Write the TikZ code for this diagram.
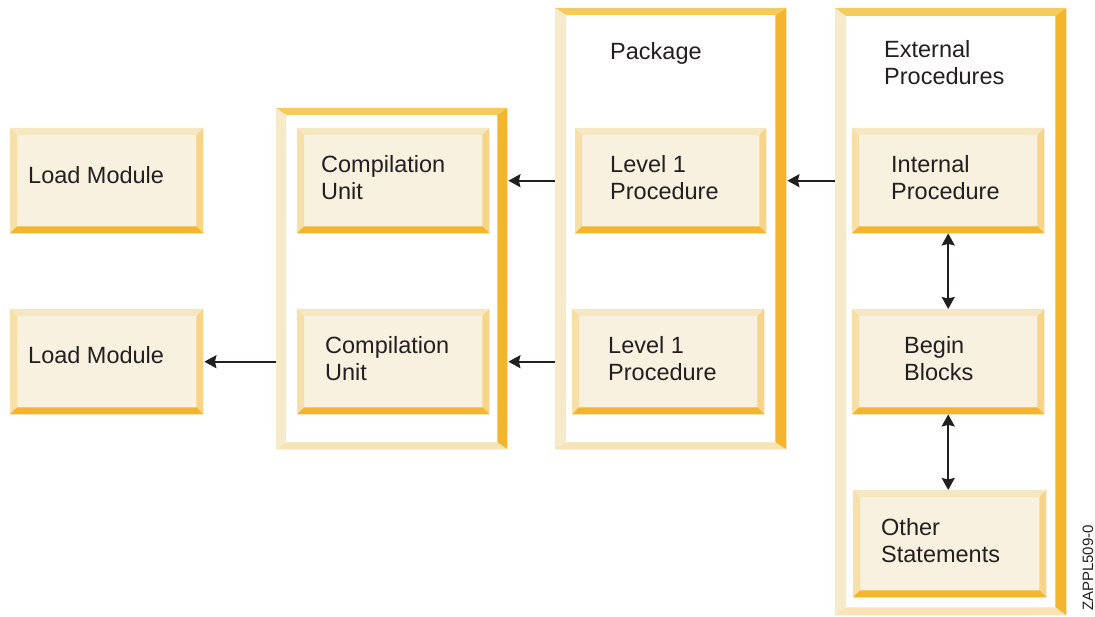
\documentclass[tikz,border=0pt]{standalone}
\usepackage{fontspec}
\setmainfont{Liberation Sans}
\usetikzlibrary{arrows.meta}

% bevel colours: outer containers and inner blocks
\definecolor{outtop}{HTML}{F5CB5C}
\definecolor{outleft}{HTML}{F6EACB}
\definecolor{outright}{HTML}{F3B42E}
\definecolor{outbot}{HTML}{F7E3B3}
\definecolor{intop}{HTML}{F6E7C3}
\definecolor{inleft}{HTML}{F7DFA8}
\definecolor{inright}{HTML}{F7D488}
\definecolor{inbot}{HTML}{F3B42E}
\definecolor{boxfill}{HTML}{F8F1E0}
\definecolor{txt}{HTML}{231F20}

\tikzset{
  frame/.style={inner sep=0pt, anchor=north west, fill=white},
  block/.style={inner sep=0pt, anchor=north west, fill=boxfill},
  lbl/.style={anchor=base west, align=left, inner sep=0pt, text=txt,
    font=\fontsize{23.5}{27}\selectfont},
  tip/.style={Stealth[length=12pt,width=13pt,inset=1.5pt]},
  arr/.style={-{Stealth[length=12pt,width=13pt,inset=1.5pt]}, line width=2pt, draw=txt},
  darr/.style={{Stealth[length=12pt,width=13pt,inset=1.5pt]}-{Stealth[length=12pt,width=13pt,inset=1.5pt]}, line width=2pt, draw=txt},
}

% bevelled border around a node: #1 node, #2 side width, #3 top/bottom width, #4 colour set
\newcommand\bevel[4]{%
  \fill[#4top] (#1.north west) -- (#1.north east) -- ([shift={(-#2,#3)}]#1.north east) -- ([shift={(#2,#3)}]#1.north west) -- cycle;
  \fill[#4left] (#1.north west) -- ([shift={(#2,#3)}]#1.north west) -- ([shift={(#2,-#3)}]#1.south west) -- (#1.south west) -- cycle;
  \fill[#4right] (#1.north east) -- (#1.south east) -- ([shift={(-#2,-#3)}]#1.south east) -- ([shift={(-#2,#3)}]#1.north east) -- cycle;
  \fill[#4bot] (#1.south west) -- ([shift={(#2,-#3)}]#1.south west) -- ([shift={(-#2,-#3)}]#1.south east) -- (#1.south east) -- cycle;
}

\begin{document}
\begin{tikzpicture}[x=1pt, y=-1pt]
\useasboundingbox (0,0) rectangle (1095,617);

% containers
\node[frame, minimum width=231pt, minimum height=341pt] (cuc) at (276,108) {};
\node[frame, minimum width=231pt, minimum height=441pt] (pkg) at (555,8) {};
\node[frame, minimum width=231pt, minimum height=607pt] (ext) at (835,8) {};
\bevel{cuc}{10}{7}{out}
\bevel{pkg}{11}{7}{out}
\bevel{ext}{11}{8}{out}

% blocks
\node[block, minimum width=193pt, minimum height=105pt] (lm1) at (10,128) {};
\node[block, minimum width=193pt, minimum height=105pt] (lm2) at (10,309) {};
\node[block, minimum width=192pt, minimum height=105pt] (cu1) at (297,128) {};
\node[block, minimum width=192pt, minimum height=105pt] (cu2) at (297,309) {};
\node[block, minimum width=191pt, minimum height=105pt] (lp1) at (575,128) {};
\node[block, minimum width=192pt, minimum height=105pt] (lp2) at (572,309) {};
\node[block, minimum width=192pt, minimum height=105pt] (ip) at (852,128) {};
\node[block, minimum width=192pt, minimum height=105pt] (bb) at (852,309) {};
\node[block, minimum width=193pt, minimum height=107pt] (os) at (853,490) {};
\foreach \b in {lm1,lm2,cu1,cu2,lp1,lp2,ip,bb,os}{\bevel{\b}{7}{7}{in}}

% labels (multi-line labels are placed by the baseline of their last line)
\node[lbl] (tlm1) at (28,184) {Load Module};
\node[lbl] (tlm2) at (28,364) {Load Module};
\node[lbl] (tcu1) at (321,200) {Compilation\\Unit};
\node[lbl] (tcu2) at (325,381) {Compilation\\Unit};
\node[lbl] (tpkg) at (610,60) {Package};
\node[lbl] (tlp1) at (610,200) {Level 1\\Procedure};
\node[lbl] (tlp2) at (608,381) {Level 1\\Procedure};
\node[lbl] (text) at (884,85) {External\\Procedures};
\node[lbl] (tip) at (891,200) {Internal\\Procedure};
\node[lbl] (tbb) at (904,381) {Begin\\Blocks};
\node[lbl] (tos) at (881,562) {Other\\Statements};
\node[rotate=90, inner sep=0pt, text=txt, font=\fontsize{15}{18}\selectfont] (ref) at (1088,568) {ZAPPL509-0};

% connectors
\draw[arr] (ext.west |- ip.center) -- ([xshift=1pt]pkg.east |- ip.center);
\draw[arr] (pkg.west |- lp1.center) -- ([xshift=1pt]cuc.east |- cu1.center);
\draw[arr] (pkg.west |- lp2.center) -- ([xshift=1pt]cuc.east |- cu2.center);
\draw[arr] (cuc.west |- cu2.center) -- ([xshift=1pt]lm2.east);
\draw[darr] (ip.south) -- (bb.north);
\draw[darr] (bb.south) -- (bb.south |- os.north);
\end{tikzpicture}
\end{document}
